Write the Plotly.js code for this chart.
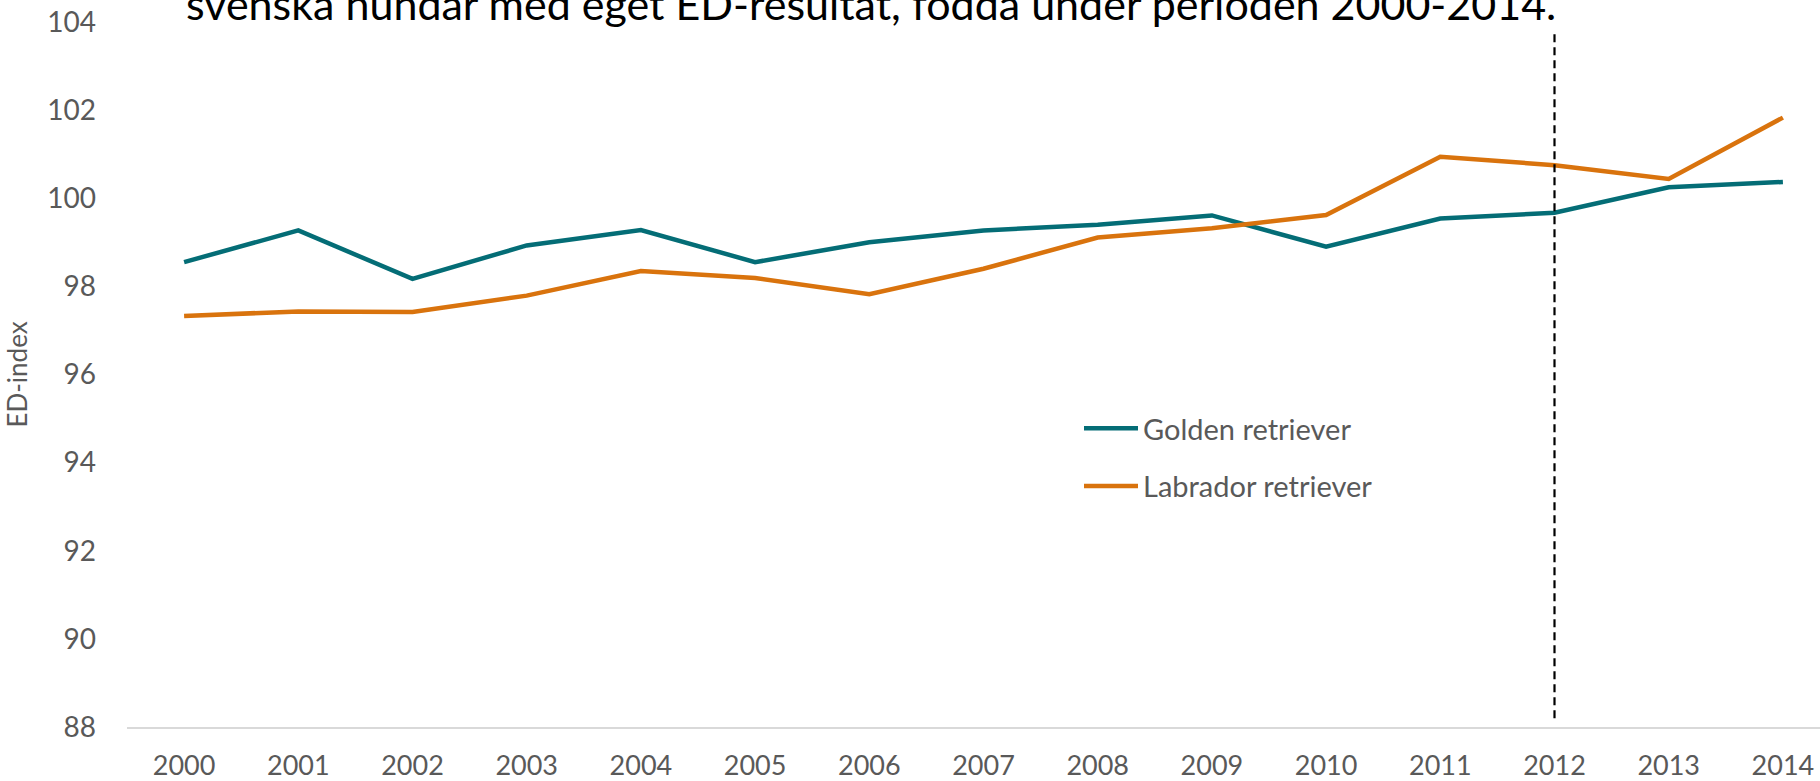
<!DOCTYPE html>
<html>
<head>
<meta charset="utf-8">
<script src="https://cdn.plot.ly/plotly-3.0.1.min.js"></script>
<style>
html,body{margin:0;padding:0;background:#fff;}
#chart{width:1820px;height:781px;}
</style>
</head>
<body>
<div id="chart"></div>
<script>
const years = [2000,2001,2002,2003,2004,2005,2006,2007,2008,2009,2010,2011,2012,2013,2014];
const yearLabels = ["2000","2001","2002","2003","2004","2005","2006","2007","2008","2009","2010","2011","2012","2013","2014"];
const golden = [98.55,99.27,98.17,98.93,99.28,98.55,99.00,99.27,99.40,99.61,98.90,99.54,99.67,100.25,100.37];
const labrador = [97.33,97.43,97.42,97.79,98.35,98.19,97.82,98.40,99.11,99.32,99.62,100.94,100.75,100.44,101.83];
const yTicks = [88,90,92,94,96,98,100,102,104];
const seriesNames = ["Golden retriever","Labrador retriever"];
const titleText = "svenska hundar med eget ED-resultat, födda under perioden 2000-2014.";
const yTitle = "ED-index";
const markerYear = 2012;

const FONT = "Lato, 'Noto Sans', sans-serif";
const gray = "#595959";

const traces = [
  {x: years, y: golden, name: seriesNames[0], type: "scatter", mode: "lines",
   line: {color: "#046d76", width: 4.5}, legendgroup: "g"},
  {x: years, y: labrador, name: seriesNames[1], type: "scatter", mode: "lines",
   line: {color: "#d9730d", width: 4.5}, legendgroup: "l"}
];

const plotL = 127, plotW = 1820 - 127;
const layout = {
  width: 1820, height: 781,
  margin: {l: 127, r: 0, t: 22, b: 54, pad: 0},
  paper_bgcolor: "#fff", plot_bgcolor: "#fff",
  font: {family: FONT, color: gray, size: 28},
  title: {text: titleText, font: {family: FONT, size: 43, color: "#000"},
          x: 186/1820, xanchor: "left", xref: "container",
          y: 1 - 20/781, yanchor: "bottom", yref: "container"},
  showlegend: true,
  legend: {x: (1079 - plotL)/plotW, xanchor: "left", y: 1 - (403 - 22)/705, yanchor: "top",
           font: {family: FONT, size: 29, color: gray}, bgcolor: "rgba(0,0,0,0)",
           traceorder: "grouped", tracegroupgap: 17, itemwidth: 54},
  xaxis: {range: [1999.5, 1999.5 + plotW/114.2], tickvals: years, ticktext: yearLabels,
          showgrid: false, zeroline: false, showline: true, linecolor: "#d9d9d9", linewidth: 1.5,
          ticks: "", ticklabelstandoff: 14, tickfont: {family: FONT, size: 27, color: gray},
          fixedrange: true},
  yaxis: {range: [88, 104], tickvals: yTicks, ticktext: yTicks.map(String),
          showgrid: false, zeroline: false, showline: false, ticks: "",
          ticklabelstandoff: 30, tickfont: {family: FONT, size: 28, color: gray},
          title: {text: yTitle, font: {family: FONT, size: 26, color: gray}, standoff: 12},
          fixedrange: true},
  shapes: [{type: "line", xref: "x", yref: "y", x0: markerYear, x1: markerYear, y0: 88.2, y1: 103.72,
            line: {color: "#000", width: 2.2, dash: "8px,5px"}, layer: "above"}]
};

Plotly.newPlot("chart", traces, layout, {displayModeBar: false, staticPlot: true});
</script>
</body>
</html>
